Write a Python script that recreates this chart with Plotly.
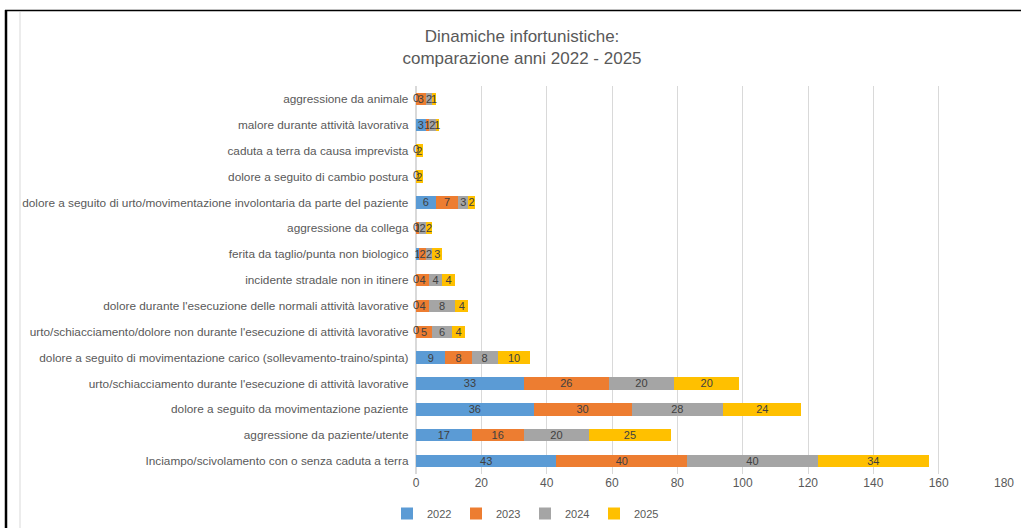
import plotly.graph_objects as go

categories = [
    "Inciampo/scivolamento con o senza caduta a terra",
    "aggressione da paziente/utente",
    "dolore a seguito da movimentazione paziente",
    "urto/schiacciamento durante l'esecuzione di attività lavorative",
    "dolore a seguito di movimentazione carico (sollevamento-traino/spinta)",
    "urto/schiacciamento/dolore non durante l'esecuzione di attività lavorative",
    "dolore durante l'esecuzione delle normali attività lavorative",
    "incidente stradale non in itinere",
    "ferita da taglio/punta non biologico",
    "aggressione da collega",
    "dolore a seguito di urto/movimentazione involontaria da parte del paziente",
    "dolore a seguito di cambio postura",
    "caduta a terra da causa imprevista",
    "malore durante attività lavorativa",
    "aggressione da animale",
]
v2022 = [43, 17, 36, 33, 9, 0, 0, 0, 1, 0, 6, 0, 0, 3, 0]
v2023 = [40, 16, 30, 26, 8, 5, 4, 4, 2, 1, 7, 0, 0, 1, 3]
v2024 = [40, 20, 28, 20, 8, 6, 8, 4, 2, 2, 3, 0, 0, 2, 2]
v2025 = [34, 25, 24, 20, 10, 4, 4, 4, 3, 2, 2, 2, 2, 1, 1]
years = ["2022", "2023", "2024", "2025"]
colors = ["#5b9bd5", "#ed7d31", "#a5a5a5", "#ffc000"]

FONT = "Liberation Sans Narrow, Arial Narrow, Liberation Sans, sans-serif"
W, H = 1021, 528
L, R, T, B = 416, 17, 86, 54
pw, ph = W - L - R, H - T - B

def px(x):
    return (x - L) / pw

def py(y):
    return (H - B - y) / ph

fig = go.Figure()
series = [v2022, v2023, v2024, v2025]
for name, vals, c in zip(years, series, colors):
    fig.add_trace(go.Bar(
        y=categories, x=vals, name=name, orientation="h",
        marker=dict(color=c, line=dict(width=0)),
        text=[str(v) for v in vals], textposition="inside", textangle=0,
        insidetextanchor="middle", constraintext="none",
        textfont=dict(color="#404040", size=11, family=FONT),
        cliponaxis=False,
    ))

# labels for zero-valued segments (plotly does not draw text on empty bars);
# coincident zero labels are drawn once, as they overprint in the original
zx, zy = [], []
for i, cat in enumerate(categories):
    cum = 0
    seen = set()
    for vals in series:
        if vals[i] == 0 and cum not in seen:
            zx.append(cum)
            zy.append(cat)
            seen.add(cum)
        cum += vals[i]
fig.add_trace(go.Scatter(x=zx, y=zy, mode="text", text=["0"] * len(zx),
                         textposition="middle center", showlegend=False, hoverinfo="skip",
                         textfont=dict(color="#404040", size=11, family=FONT), cliponaxis=False))

fig.update_layout(
    width=W, height=H, barmode="stack", bargap=0.52,
    margin=dict(l=L, r=R, t=T, b=B, autoexpand=False),
    paper_bgcolor="white", plot_bgcolor="white",
    font=dict(family=FONT, color="#595959", size=12),
    title=dict(text="Dinamiche infortunistiche:<br>comparazione anni 2022 - 2025",
               x=522 / W, xanchor="center", xref="container", y=1 - 42 / H, yanchor="middle",
               yref="container",
               font=dict(size=17, color="#595959", family=FONT)),
    xaxis=dict(range=[0, 180], dtick=20, showgrid=True, gridcolor="#d9d9d9", gridwidth=1,
               zeroline=True, zerolinecolor="#d9d9d9", showline=False, ticks="",
               automargin=False, tickfont=dict(size=12, color="#595959"), fixedrange=True),
    yaxis=dict(autorange=False, range=[-0.5, len(categories) - 0.5], showgrid=False, ticks="",
               automargin=False, ticksuffix="  ", tickfont=dict(size=11.8, color="#595959"),
               fixedrange=True),
    legend=dict(orientation="h", x=525 / W, xref="container", xanchor="center",
                y=-5 / H, yref="container", yanchor="bottom", traceorder="normal",
                font=dict(size=11, color="#595959"), itemwidth=30, tracegroupgap=0,
                entrywidth=24, entrywidthmode="pixels"),
    showlegend=True,
)

fig.update_layout(shapes=[
    dict(type="line", xref="paper", yref="paper", x0=px(6), x1=px(6), y0=py(10), y1=py(H + 2),
         line=dict(color="black", width=2.5)),
    dict(type="line", xref="paper", yref="paper", x0=px(5), x1=px(W + 2), y0=py(10.5), y1=py(10.5),
         line=dict(color="black", width=1.5)),
    dict(type="line", xref="paper", yref="paper", x0=px(20), x1=px(20), y0=py(12), y1=py(H + 2),
         line=dict(color="#d9d9d9", width=1)),
])

fig.write_html("out.html", config={"displayModeBar": False},
               post_script="document.body.style.margin='0';document.body.style.overflow='hidden';")
